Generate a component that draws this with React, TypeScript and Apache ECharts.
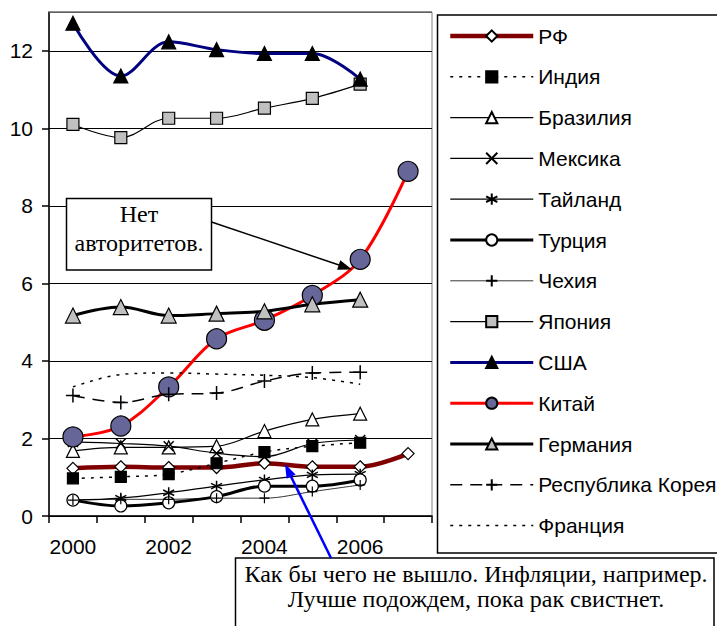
import React, { useEffect, useRef } from "react";
import * as echarts from "echarts";

const years = ["2000", "2001", "2002", "2003", "2004", "2005", "2006", "2007"];
const yTicks = [0, 2, 4, 6, 8, 10, 12];

const rf = [1.23, 1.27, 1.25, 1.25, 1.36, 1.27, 1.27, 1.61];
const india = [0.97, 1.01, 1.08, 1.36, 1.65, 1.8, 1.89, null];
const brazil = [1.68, 1.77, 1.77, 1.8, 2.19, 2.49, 2.64, null];
const mexico = [1.91, 1.87, 1.8, 1.62, 1.53, 1.87, 1.96, null];
const thailand = [0.41, 0.46, 0.6, 0.77, 0.93, 1.06, 1.08, null];
const turkey = [0.41, 0.26, 0.34, 0.5, 0.77, 0.77, 0.93, null];
const czech = [0.41, 0.43, 0.43, 0.46, 0.46, 0.63, 0.8, null];
const japan = [10.1, 9.76, 10.26, 10.26, 10.52, 10.77, 11.14, null];
const usa = [12.71, 11.35, 12.23, 12.03, 11.93, 11.93, 11.27, null];
const china = [2.04, 2.32, 3.33, 4.57, 5.05, 5.69, 6.62, 8.89];
const germany = [5.17, 5.39, 5.17, 5.22, 5.28, 5.46, 5.58, null];
const korea = [3.11, 2.93, 3.14, 3.17, 3.48, 3.69, 3.71, null];
const france = [3.33, 3.65, 3.69, 3.66, 3.63, 3.57, 3.4, null];

const note1 = ["Нет", "авторитетов."];
const note2 = ["Как бы чего не вышло. Инфляции, например.", "Лучше подождем, пока рак свистнет."];

const SANS = "'Liberation Sans', Arial, sans-serif";
const SERIF = "'Liberation Serif', 'Times New Roman', serif";

const X_PATH = "path://M0,0L10,10M10,0L0,10";
const STAR_PATH = "path://M5,0L5,10M0.7,2.5L9.3,7.5M0.7,7.5L9.3,2.5";
const PLUS_PATH = "path://M5,0L5,10M0,5L10,5";

function mk(name: string, data: (number | null)[], line: any, symbol: string, size: number, item: any) {
  return {
    name,
    type: "line",
    data,
    smooth: 0.35,
    symbol,
    symbolSize: size,
    showSymbol: symbol !== "none",
    lineStyle: line,
    itemStyle: item,
    emphasis: { disabled: true },
  };
}

export default function App() {
  const ref = useRef<HTMLDivElement>(null);
  useEffect(() => {
    const chart = echarts.init(ref.current!, null, { renderer: "svg" });
    const stroke = { borderColor: "#000", borderWidth: 1.2 };
    const series = [
      mk("РФ", rf, { color: "#800000", width: 4.5 }, "diamond", 12, { color: "#fff", ...stroke }),
      mk("Индия", india, { color: "#000", width: 1.5, type: [3, 6] }, "rect", 11, { color: "#000", ...stroke }),
      mk("Бразилия", brazil, { color: "#000", width: 1.2 }, "triangle", 13, { color: "#fff", ...stroke }),
      mk("Мексика", mexico, { color: "#000", width: 1.2 }, X_PATH, 10, { color: "#000", borderColor: "#000", borderWidth: 1.5 }),
      mk("Тайланд", thailand, { color: "#000", width: 1.2 }, STAR_PATH, 11, { color: "#000", borderColor: "#000", borderWidth: 1.5 }),
      mk("Турция", turkey, { color: "#000", width: 3 }, "circle", 12, { color: "#fff", ...stroke }),
      mk("Чехия", czech, { color: "#000", width: 0.8 }, PLUS_PATH, 10, { color: "#000", borderColor: "#000", borderWidth: 1.2 }),
      mk("Япония", japan, { color: "#000", width: 1.2 }, "rect", 12, { color: "#C0C0C0", ...stroke }),
      mk("США", usa, { color: "#000080", width: 3 }, "triangle", 14, { color: "#000", ...stroke }),
      mk("Китай", china, { color: "#FF0000", width: 3 }, "circle", 20, { color: "#666699", ...stroke }),
      mk("Германия", germany, { color: "#000", width: 3 }, "triangle", 15, { color: "#C0C0C0", ...stroke }),
      mk("Республика Корея", korea, { color: "#000", width: 1.5, type: [12, 8] }, PLUS_PATH, 14, { color: "#000", borderColor: "#000", borderWidth: 1.5 }),
      mk("Франция", france, { color: "#000", width: 1.5, type: [3, 6] }, "none", 10, { color: "#000" }),
    ];

    const legendData = series.map((s: any) => {
      const d: any = { name: s.name, lineStyle: { width: s.lineStyle.width } };
      if (s.symbol === "none") d.itemStyle = { opacity: 0 };
      return d;
    });

    chart.setOption({
      animation: false,
      textStyle: { fontFamily: SANS },
      grid: { left: 49, right: 285, top: 12, bottom: 110, show: true, borderColor: "#808080", borderWidth: 1 },
      xAxis: {
        type: "category",
        data: years,
        boundaryGap: true,
        axisLine: { lineStyle: { color: "#000", width: 1.5 } },
        axisTick: { show: true, interval: 0, length: 7, lineStyle: { color: "#000", width: 1.5 } },
        axisLabel: { interval: 1, color: "#000", fontSize: 21, fontFamily: SANS, margin: 20 },
        splitLine: { show: false },
      },
      yAxis: {
        type: "value",
        min: 0,
        max: 13,
        interval: 2,
        axisLine: { show: true, lineStyle: { color: "#000", width: 1.5 } },
        axisTick: { show: true, length: 7, lineStyle: { color: "#000", width: 1.5 } },
        axisLabel: {
          color: "#000",
          fontSize: 21,
          fontFamily: SANS,
          margin: 16,
          showMaxLabel: false,
          formatter: (v: number) => (yTicks.indexOf(v) >= 0 ? String(v) : ""),
        },
        splitLine: { show: true, lineStyle: { color: "#000", width: 1.2 } },
      },
      legend: {
        orient: "vertical",
        left: 448,
        top: 25,
        padding: 0,
        itemWidth: 83,
        itemHeight: 14,
        itemGap: 18.8,
        selectedMode: false,
        textStyle: { color: "#000", fontSize: 21, fontFamily: SANS, lineHeight: 22 },
        data: legendData,
      },
      series,
      graphic: [
        { type: "line", z: 50, shape: { x1: 49, y1: 12, x2: 432, y2: 12 }, style: { stroke: "#808080", lineWidth: 1.5 } },
        { type: "rect", z: -1, shape: { x: 437.5, y: 15, width: 300, height: 538 }, style: { fill: "none", stroke: "#000", lineWidth: 1.5 } },
        // note 1
        { type: "rect", z: 60, shape: { x: 66.5, y: 198.5, width: 145, height: 71.5 }, style: { fill: "#fff", stroke: "#000", lineWidth: 1.5 } },
        { type: "text", z: 61, x: 139, y: 214, style: { text: note1[0], fill: "#000", font: `24px ${SERIF}`, align: "center", verticalAlign: "middle" } },
        { type: "text", z: 61, x: 139, y: 243, style: { text: note1[1], fill: "#000", font: `24px ${SERIF}`, align: "center", verticalAlign: "middle" } },
        { type: "line", z: 60, shape: { x1: 211.5, y1: 222, x2: 339, y2: 265 }, style: { stroke: "#000", lineWidth: 1.5 } },
        { type: "polygon", z: 60, shape: { points: [[352, 269.5], [337.1, 269.7], [340.3, 260.3]] }, style: { fill: "#000" } },
        // note 2
        { type: "rect", z: 60, shape: { x: 235.5, y: 558, width: 478.5, height: 80 }, style: { fill: "#fff", stroke: "#000", lineWidth: 1.5 } },
        { type: "text", z: 61, x: 476, y: 574, style: { text: note2[0], fill: "#000", font: `24px ${SERIF}`, align: "center", verticalAlign: "middle" } },
        { type: "text", z: 61, x: 476, y: 599, style: { text: note2[1], fill: "#000", font: `24px ${SERIF}`, align: "center", verticalAlign: "middle" } },
        { type: "line", z: 60, shape: { x1: 331, y1: 558, x2: 291, y2: 476.6 }, style: { stroke: "#0000FF", lineWidth: 2.5 } },
        { type: "polygon", z: 60, shape: { points: [[285, 464], [295.6, 474.4], [286.6, 478.8]] }, style: { fill: "#0000FF" } },
      ],
    });
    return () => chart.dispose();
  }, []);
  return <div ref={ref} style={{ position: "fixed", left: 0, top: 0, width: 717, height: 626, background: "#fff" }} />;
}
